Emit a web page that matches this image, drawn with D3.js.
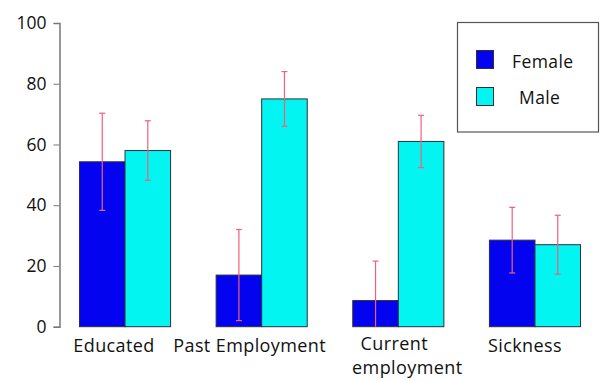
<!DOCTYPE html>
<html>
<head>
<meta charset="utf-8">
<script src="https://cdn.jsdelivr.net/npm/d3@7"></script>
<style>
  html, body { margin: 0; padding: 0; background: #fff; }
  svg { display: block; }
  text { font-family: "Open Sans", sans-serif; fill: #111; }
</style>
</head>
<body>
<svg id="chart" width="600" height="381"></svg>
<script>
// Categories (label lines) and series
const categories = ["Educated", "Past Employment", "Current employment", "Sickness"];
const categoryLines = [["Educated"], ["Past Employment"], ["Current", "employment"], ["Sickness"]];
const seriesNames = ["Female", "Male"];
const femaleValues = [54.3, 17, 8.6, 28.5];
const maleValues = [58, 75, 61, 27];
const femaleErrors = [16, 15, 13, 10.8];
const maleErrors = [9.8, 9, 8.6, 9.7];
const yTicks = [0, 20, 40, 60, 80, 100];

const colors = { Female: "#0303f0", Male: "#03f5f2" };

const svg = d3.select("#chart");

const y = d3.scaleLinear().domain([0, 100]).range([326.7, 23]);
const x = d3.scaleBand().domain(categories).range([56.7, 603.3])
  .paddingInner(1 / 3).paddingOuter(1 / 6);
const xs = d3.scaleBand().domain(seriesNames).range([0, x.bandwidth()]);

// Build rows for the grouped bars
const rows = [];
categories.forEach((c, i) => {
  rows.push({ cat: c, series: "Female", value: femaleValues[i], err: femaleErrors[i] });
  rows.push({ cat: c, series: "Male", value: maleValues[i], err: maleErrors[i] });
});

// Bars
svg.append("g").selectAll("rect").data(rows).join("rect")
  .attr("x", d => x(d.cat) + xs(d.series))
  .attr("y", d => y(d.value))
  .attr("width", xs.bandwidth())
  .attr("height", d => y(0) - y(d.value))
  .attr("fill", d => colors[d.series])
  .attr("stroke", "#2e2e3e")
  .attr("stroke-width", 1);

// Error bars
const eb = svg.append("g").attr("stroke", "#f0607a").attr("stroke-width", 1.2);
rows.forEach(d => {
  const cx = x(d.cat) + xs(d.series) + xs.bandwidth() / 2;
  const lo = Math.max(0, d.value - d.err);
  const hi = d.value + d.err;
  eb.append("line").attr("x1", cx).attr("x2", cx).attr("y1", y(lo)).attr("y2", y(hi));
  eb.append("line").attr("x1", cx - 3).attr("x2", cx + 3).attr("y1", y(hi)).attr("y2", y(hi));
  if (lo > 0) eb.append("line").attr("x1", cx - 3).attr("x2", cx + 3).attr("y1", y(lo)).attr("y2", y(lo));
});

// Y axis
const yAxis = svg.append("g").attr("transform", "translate(59.5,0)")
  .call(d3.axisLeft(y).tickValues(yTicks).tickSize(6).tickPadding(7));
yAxis.select(".domain").attr("stroke", "#777").attr("stroke-width", 1.5);
yAxis.selectAll(".tick line").attr("stroke", "#777");
yAxis.selectAll(".tick text").style("font-size", "17.5px").attr("fill", "#111");

// Category labels (multi-line labels share one text element)
const labelShift = [-11, -12, 0, -10];
const lineShift = [[0], [0], [-4, 9], [0]];
const xl = svg.append("g");
categories.forEach((c, i) => {
  const cx = x(c) + x.bandwidth() / 2 + labelShift[i];
  const multi = categoryLines[i].length > 1;
  const t = xl.append("text")
    .attr("y", multi ? 350 : 352)
    .attr("text-anchor", "middle")
    .style("font-size", "18px")
    .style("letter-spacing", "0.4px");
  categoryLines[i].forEach((line, j) => {
    t.append("tspan")
      .attr("x", cx + lineShift[i][j])
      .attr("dy", j === 0 ? 0 : 24)
      .text(line);
  });
});

// Legend
const lg = svg.append("g");
lg.append("rect").attr("x", 457.5).attr("y", 22.5).attr("width", 141).attr("height", 109.5)
  .attr("fill", "#fff").attr("stroke", "#555").attr("stroke-width", 1.2);
seriesNames.forEach((s, i) => {
  lg.append("rect").attr("x", 476.5).attr("y", 50.5 + i * 37).attr("width", 17).attr("height", 18)
    .attr("fill", colors[s]).attr("stroke", "#2e2e3e").attr("stroke-width", 1);
  lg.append("text").attr("x", i === 0 ? 512 : 519).attr("y", 68 + i * 36)
    .style("font-size", "17.5px").style("letter-spacing", "0.4px").text(s);
});
</script>
</body>
</html>
